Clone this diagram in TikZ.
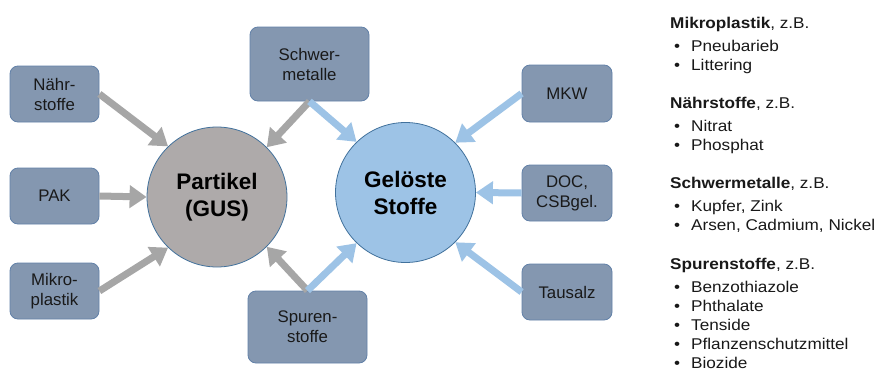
\documentclass[tikz,border=0pt]{standalone}
\usepackage{fontspec}
\setmainfont{Liberation Sans}
\newfontfamily\listfont{Liberation Sans}[FakeStretch=1.1]
\usetikzlibrary{arrows.meta}
\definecolor{boxfill}{HTML}{8497B0}
\definecolor{boxline}{HTML}{6281A8}
\definecolor{grayfill}{HTML}{AEAAAA}
\definecolor{bluefill}{HTML}{9DC3E6}
\definecolor{circline}{HTML}{41719C}
\definecolor{garrowc}{HTML}{A6A6A6}
\definecolor{barrowc}{HTML}{9DC3E6}
\tikzset{
  srcbox/.style={draw=boxline, line width=0.8pt, fill=boxfill, rounded corners=8pt, align=center,
    font=\fontsize{16.8}{20}\selectfont, text=black!90, inner sep=0pt},
  bigcirc/.style={circle, draw=circline, line width=0.8pt, minimum size=140pt, align=center,
    font=\fontsize{22.5}{27}\selectfont\bfseries, inner sep=0pt},
  garrow/.style={draw=garrowc, line width=7pt, -{Triangle[width=22pt,length=17pt]}},
  barrow/.style={draw=barrowc, line width=7pt, -{Triangle[width=22pt,length=17pt]}},
  listtxt/.style={anchor=base west, font=\listfont\fontsize{15.6}{18}\selectfont, inner sep=0pt, text=black!90},
}
\newcommand{\bul}[1]{\makebox[19pt][l]{\hspace{2pt}\textbullet}#1}
\begin{document}
\begin{tikzpicture}[x=1pt,y=-1pt]
\useasboundingbox (0,0) rectangle (878,370);
\fill[white] (0,0) rectangle (878,370);
% circles
\node[bigcirc, fill=grayfill] (part) at (217,197) {Partikel\\(GUS)};
\node[bigcirc, fill=bluefill] (gel) at (405.5,192.5) {Gelöste\\Stoffe};
% left boxes
\node[srcbox, minimum width=89pt, minimum height=56pt] (nae) at (54.5,94) {Nähr-\\stoffe};
\node[srcbox, minimum width=89pt, minimum height=56pt] (pak) at (54.5,196) {PAK};
\node[srcbox, minimum width=89pt, minimum height=56pt] (mik) at (54.5,291) {Mikro-\\plastik};
% middle boxes
\node[srcbox, minimum width=119pt, minimum height=74pt] (sch) at (309.5,64) {Schwer-\\metalle};
\node[srcbox, minimum width=119pt, minimum height=72pt] (spu) at (307.5,327) {Spuren-\\stoffe};
% right boxes
\node[srcbox, minimum width=90pt, minimum height=57pt] (mkw) at (567,93.5) {MKW};
\node[srcbox, minimum width=90pt, minimum height=56pt] (doc) at (567,193) {DOC,\\CSBgel.};
\node[srcbox, minimum width=90pt, minimum height=56pt] (tau) at (567,292) {Tausalz};
% arrows
\draw[garrow] (nae.east) -- (part.134);
\draw[garrow] (pak.east) -- (part.180);
\draw[garrow] (mik.east) -- (part.226);
\draw[garrow] (sch.south) -- (part.45);
\draw[garrow] (spu.north) -- (part.315);
\draw[barrow] (sch.south) -- (gel.134);
\draw[barrow] (spu.north) -- (gel.226);
\draw[barrow] (mkw.west) -- (gel.45);
\draw[barrow] (doc.west) -- (gel.0);
\draw[barrow] (tau.west) -- (gel.315);
% list
\node[listtxt] (l1) at (670,28) {\textbf{Mikroplastik}, z.B.};
\node[listtxt] (l2) at (672,51) {\bul{Pneubarieb}};
\node[listtxt] (l3) at (672,70) {\bul{Littering}};
\node[listtxt] (l4) at (670,108) {\textbf{Nährstoffe}, z.B.};
\node[listtxt] (l5) at (672,131) {\bul{Nitrat}};
\node[listtxt] (l6) at (672,150) {\bul{Phosphat}};
\node[listtxt] (l7) at (670,188) {\textbf{Schwermetalle}, z.B.};
\node[listtxt] (l8) at (672,211) {\bul{Kupfer, Zink}};
\node[listtxt] (l9) at (672,230) {\bul{Arsen, Cadmium, Nickel}};
\node[listtxt] (l10) at (670,269) {\textbf{Spurenstoffe}, z.B.};
\node[listtxt] (l11) at (672,292) {\bul{Benzothiazole}};
\node[listtxt] (l12) at (672,311) {\bul{Phthalate}};
\node[listtxt] (l13) at (672,330) {\bul{Tenside}};
\node[listtxt] (l14) at (672,349) {\bul{Pflanzenschutzmittel}};
\node[listtxt] (l15) at (672,368) {\bul{Biozide}};
\end{tikzpicture}
\end{document}
